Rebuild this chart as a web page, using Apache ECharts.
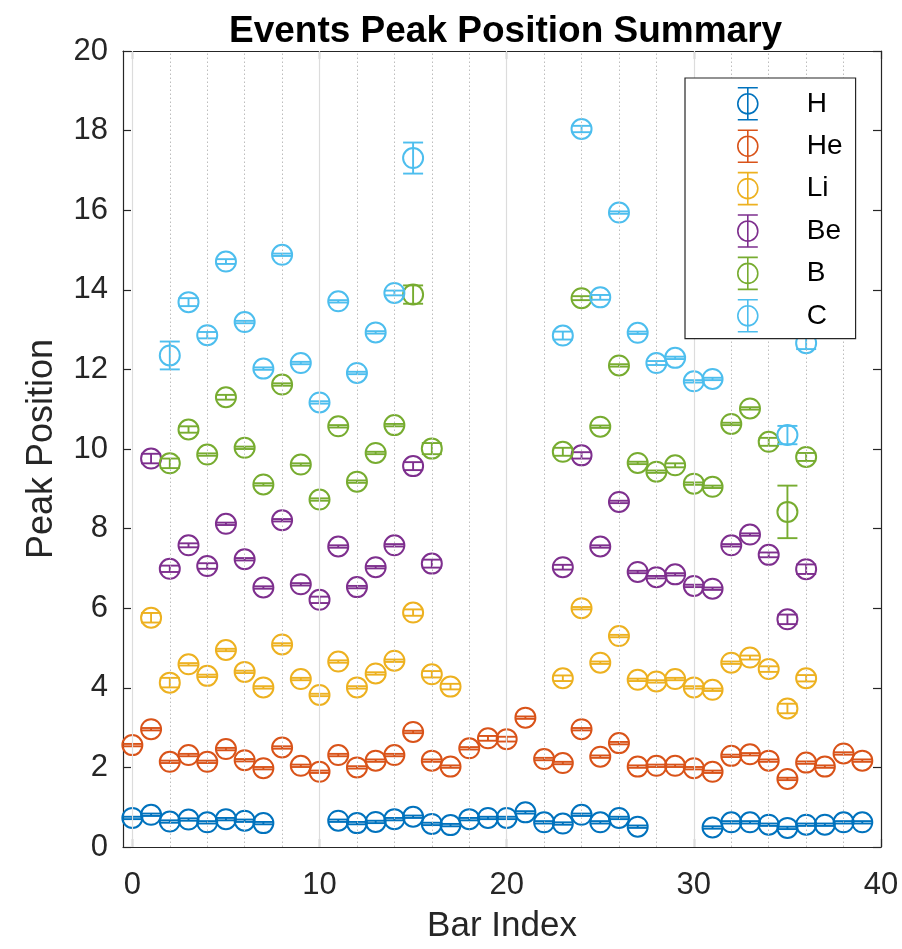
<!DOCTYPE html>
<html>
<head>
<meta charset="utf-8">
<script src="https://cdn.jsdelivr.net/npm/echarts@6/dist/echarts.min.js"></script>
<style>
  html, body { margin: 0; padding: 0; background: #fff; }
  #chart { width: 902px; height: 949px; }
</style>
</head>
<body>
<div id="chart"></div>
<script>
// ---------------- data ----------------
const barIndex = [0,1,2,3,4,5,6,7,8,9,10,11,12,13,14,15,16,17,18,19,20,21,22,23,24,25,26,27,28,29,30,31,32,33,34,35,36,37,38,39];

const seriesNames = ['H', 'He', 'Li', 'Be', 'B', 'C'];

const H_values  = [0.73,0.81,0.64,0.69,0.62,0.70,0.66,0.60,null,null,null,0.66,0.60,0.63,0.70,0.76,0.58,0.55,0.70,0.73,0.73,0.87,0.62,0.59,0.81,0.62,0.73,0.51,null,null,null,0.49,0.62,0.62,0.56,0.48,0.56,0.56,0.62,0.62];
const H_errors  = [0.03,0.03,0.03,0.03,0.03,0.03,0.03,0.03,null,null,null,0.03,0.03,0.03,0.03,0.03,0.03,0.03,0.03,0.03,0.03,0.03,0.03,0.03,0.03,0.03,0.03,0.03,null,null,null,0.03,0.03,0.03,0.03,0.03,0.03,0.03,0.03,0.03];

const He_values = [2.56,2.96,2.14,2.31,2.14,2.46,2.18,1.98,2.50,2.04,1.89,2.31,2.00,2.17,2.31,2.89,2.17,2.02,2.48,2.73,2.71,3.25,2.21,2.11,2.96,2.27,2.61,2.02,2.04,2.04,1.98,1.89,2.29,2.33,2.17,1.71,2.12,2.02,2.35,2.17];
const He_errors = [0.03,0.03,0.03,0.03,0.03,0.03,0.03,0.03,0.03,0.03,0.03,0.03,0.03,0.03,0.03,0.03,0.03,0.03,0.03,0.06,0.06,0.03,0.03,0.03,0.03,0.03,0.03,0.03,0.03,0.03,0.03,0.03,0.03,0.03,0.03,0.03,0.03,0.03,0.03,0.03];

const Li_values = [null,5.76,4.13,4.59,4.30,4.95,4.40,4.01,5.09,4.22,3.82,4.66,4.01,4.36,4.68,5.89,4.34,4.03,null,null,null,null,null,4.24,6.00,4.63,5.30,4.20,4.16,4.22,4.01,3.95,4.63,4.76,4.47,3.48,4.24,null,null,null];
const Li_errors = [null,0.12,0.12,0.03,0.03,0.03,0.03,0.03,0.03,0.03,0.03,0.03,0.03,0.03,0.03,0.08,0.08,0.07,null,null,null,null,null,0.07,0.03,0.03,0.03,0.03,0.03,0.03,0.03,0.03,0.03,0.05,0.07,0.12,0.08,null,null,null];

const Be_values = [null,9.76,6.99,7.58,7.06,8.12,7.23,6.52,8.21,6.60,6.21,7.55,6.53,7.03,7.58,9.57,7.12,null,null,null,null,null,null,7.03,9.84,7.55,8.67,6.91,6.78,6.85,6.56,6.49,7.58,7.85,7.34,5.72,6.98,null,null,null];
const Be_errors = [null,0.12,0.08,0.05,0.07,0.03,0.03,0.03,0.03,0.03,0.08,0.03,0.03,0.03,0.03,0.10,0.10,null,null,null,null,null,null,0.06,0.08,0.03,0.03,0.03,0.03,0.03,0.03,0.03,0.03,0.03,0.06,0.12,0.12,null,null,null];

const B_values  = [null,null,9.64,10.49,9.86,11.30,10.03,9.11,11.62,9.61,8.73,10.57,9.18,9.90,10.60,13.88,10.01,null,null,null,null,null,null,9.93,13.79,10.56,12.10,9.65,9.43,9.59,9.13,9.05,10.63,11.02,10.18,8.42,9.80,null,null,null];
const B_errors  = [null,null,0.12,0.08,0.03,0.06,0.03,0.03,0.03,0.03,0.03,0.03,0.03,0.03,0.03,0.23,0.14,null,null,null,null,null,null,0.10,0.05,0.03,0.03,0.03,0.03,0.05,0.03,0.03,0.03,0.03,0.10,0.66,0.10,null,null,null];

const C_values  = [null,null,12.35,13.69,12.86,14.71,13.19,12.02,14.88,12.16,11.17,13.71,11.91,12.93,13.92,17.31,null,null,null,null,null,null,null,12.85,18.04,13.81,15.94,12.92,12.16,12.29,11.70,11.76,null,null,null,10.35,12.66,null,null,null];
const C_errors  = [null,null,0.35,0.10,0.08,0.06,0.03,0.03,0.03,0.03,0.03,0.03,0.03,0.03,0.06,0.39,null,null,null,null,null,null,null,0.10,0.08,0.06,0.03,0.03,0.05,0.03,0.03,0.03,null,null,null,0.23,0.15,null,null,null];

const xTickValues = [0, 10, 20, 30, 40];
const xMajorGrid = [0, 10, 20, 30];
const xMinorGrid = [2, 4, 6, 8, 12, 14, 16, 18, 22, 24, 26, 28, 32, 34, 36, 38];

// ---------------- styles ----------------
const colors = ['#0072BD', '#D95319', '#EDB120', '#7E2F8E', '#77AC30', '#4DBEEE'];
const FONT = '"Liberation Sans", Arial, Helvetica, sans-serif';
const AXIS_COLOR = '#262626';
const R = 10;

const allValues = [H_values, He_values, Li_values, Be_values, B_values, C_values];
const allErrors = [H_errors, He_errors, Li_errors, Be_errors, B_errors, C_errors];

function makeSeries(name, color, vals, errs) {
  const data = [];
  vals.forEach(function (v, i) {
    if (v !== null) data.push([barIndex[i], v, errs[i]]);
  });
  return {
    name: name,
    type: 'custom',
    data: data,
    z: 3,
    itemStyle: { color: color, borderColor: color },
    encode: { x: 0, y: 1 },
    renderItem: function (params, api) {
      const x = api.value(0), y = api.value(1), e = api.value(2);
      const c = api.coord([x, y]);
      const t = api.coord([x, y + e]);
      const b = api.coord([x, y - e]);
      const ls = { stroke: color, lineWidth: 1.9, fill: null };
      return {
        type: 'group',
        children: [
          { type: 'circle', shape: { cx: c[0], cy: c[1], r: R }, style: { fill: 'rgba(0,0,0,0)', stroke: color, lineWidth: 2 } },
          { type: 'line', shape: { x1: c[0], y1: t[1], x2: c[0], y2: b[1] }, style: ls },
          { type: 'line', shape: { x1: c[0] - R, y1: t[1], x2: c[0] + R, y2: t[1] }, style: ls },
          { type: 'line', shape: { x1: c[0] - R, y1: b[1], x2: c[0] + R, y2: b[1] }, style: ls }
        ]
      };
    }
  };
}

const series = seriesNames.map(function (n, i) {
  return makeSeries(n, colors[i], allValues[i], allErrors[i]);
});

// grid lines (drawn behind markers)
series.unshift({
  name: 'grid',
  type: 'line',
  data: [],
  silent: true,
  z: 1,
  markLine: {
    silent: true,
    symbol: ['none', 'none'],
    label: { show: false },
    animation: false,
    data: xMajorGrid.map(function (v) { return { xAxis: v, lineStyle: { color: '#dcdcdc', width: 1.2, type: 'solid' } }; })
      .concat(xMinorGrid.map(function (v) { return { xAxis: v, lineStyle: { color: '#bdbdbd', width: 1, type: [1.5, 2.5] } }; }))
  }
});

const legendIcon = 'path://M0,16A10,10,0,1,1,20,16A10,10,0,1,1,0,16ZM10,0L10,32M0,0L20,0M0,32L20,32';

const option = {
  animation: false,
  backgroundColor: '#ffffff',
  title: {
    text: 'Events Peak Position Summary',
    left: 224,
    top: 8,
    textStyle: { fontFamily: FONT, fontSize: 37, fontWeight: 'bold', color: '#000' }
  },
  legend: {
    orient: 'vertical',
    left: 685,
    top: 78,
    itemWidth: 20,
    itemHeight: 32,
    itemGap: 8.8,
    padding: [9, 13, 6, 52],
    backgroundColor: '#ffffff',
    borderColor: AXIS_COLOR,
    borderWidth: 1.2,
    borderRadius: 0,
    z: 10,
    selectedMode: false,
    textStyle: { fontFamily: FONT, fontSize: 28, color: '#000', padding: [0, 0, 0, 44] },
    data: seriesNames.map(function (n, i) {
      return { name: n, icon: legendIcon, itemStyle: { color: 'rgba(0,0,0,0)', borderColor: colors[i], borderWidth: 1.6 } };
    })
  },
  grid: { left: 123, right: 21, top: 51, bottom: 101, containLabel: false },
  xAxis: [
    {
      type: 'value',
      min: -0.5,
      max: 40,
      position: 'bottom',
      name: 'Bar Index',
      nameLocation: 'middle',
      nameGap: 62,
      nameTextStyle: { fontFamily: FONT, fontSize: 35, color: AXIS_COLOR },
      axisLine: { show: true, onZero: false, lineStyle: { color: AXIS_COLOR, width: 1.2 } },
      axisTick: { show: true, inside: true, length: 8, customValues: xTickValues, lineStyle: { color: AXIS_COLOR, width: 1.2 } },
      axisLabel: { show: true, customValues: xTickValues, margin: 23, fontFamily: FONT, fontSize: 31, color: AXIS_COLOR },
      splitLine: { show: false }
    },
    {
      type: 'value',
      min: -0.5,
      max: 40,
      position: 'top',
      axisLine: { show: true, onZero: false, lineStyle: { color: AXIS_COLOR, width: 1.2 } },
      axisTick: { show: true, inside: true, length: 8, customValues: xTickValues, lineStyle: { color: AXIS_COLOR, width: 1.2 } },
      axisLabel: { show: false },
      splitLine: { show: false }
    }
  ],
  yAxis: [
    {
      type: 'value',
      min: 0,
      max: 20,
      interval: 2,
      position: 'left',
      name: 'Peak Position',
      nameLocation: 'middle',
      nameGap: 63,
      nameTextStyle: { fontFamily: FONT, fontSize: 36, color: AXIS_COLOR },
      axisLine: { show: true, onZero: false, lineStyle: { color: AXIS_COLOR, width: 1.2 } },
      axisTick: { show: true, inside: true, length: 8, lineStyle: { color: AXIS_COLOR, width: 1.2 } },
      axisLabel: { show: true, margin: 15, fontFamily: FONT, fontSize: 31, color: AXIS_COLOR },
      splitLine: { show: false }
    },
    {
      type: 'value',
      min: 0,
      max: 20,
      interval: 2,
      position: 'right',
      axisLine: { show: true, onZero: false, lineStyle: { color: AXIS_COLOR, width: 1.2 } },
      axisTick: { show: true, inside: true, length: 8, lineStyle: { color: AXIS_COLOR, width: 1.2 } },
      axisLabel: { show: false },
      splitLine: { show: false }
    }
  ],
  series: series
};

const chart = echarts.init(document.getElementById('chart'), null, { renderer: 'canvas' });
chart.setOption(option);
</script>
</body>
</html>
